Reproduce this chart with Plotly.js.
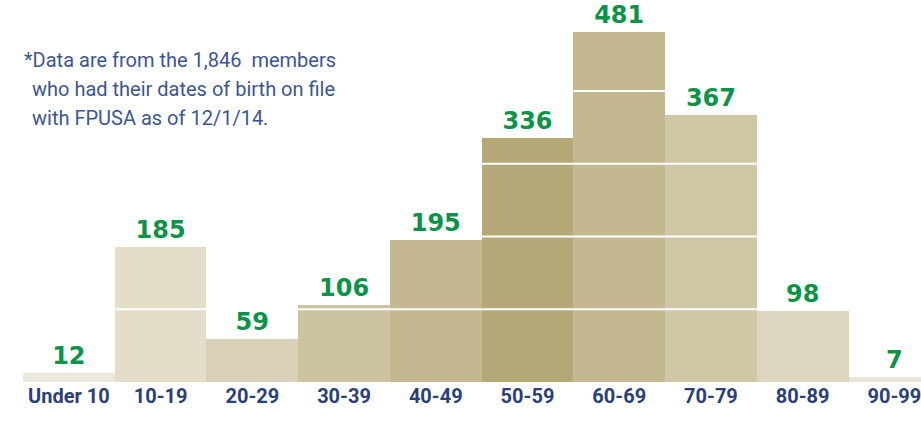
<!DOCTYPE html>
<html><head><meta charset="utf-8">
<script src="https://cdn.plot.ly/plotly-3.0.1.min.js"></script>
<style>body{margin:0;background:#fff}#chart{width:921px;height:435px}</style>
</head><body><div id="chart"></div>
<script>
const categories = ["Under 10","10-19","20-29","30-39","40-49","50-59","60-69","70-79","80-89","90-99"];
const members = [12,185,59,106,195,336,481,367,98,7];
const barColors = ["#ede8dd","#e3ddca","#d9d1b7","#cdc3a0","#c4b890","#b5a877","#c4b890","#d0c7a6","#ddd7bf","#ebe6da"];
const gridVals = [100,200,300,400,500];
const noteLines = ["*Data are from the 1,846  members","who had their dates of birth on file","with FPUSA as of 12/1/14."];

const trace = {
  type:"bar", x:categories, y:members,
  marker:{color:barColors, line:{width:0}},
  text:members.map(String), textposition:"outside", cliponaxis:false,
  textfont:{family:"DejaVu Sans", size:24, color:"#0b9447", weight:"bold"},
  hoverinfo:"none"
};
const noteX = [22,30,30];
const noteY = [60,89,118];
const annotations = noteLines.map((t,i)=>({
  text:t, xref:"paper", yref:"paper", xanchor:"left", yanchor:"middle",
  x:(noteX[i]-23)/898, y:1-(noteY[i])/382, showarrow:false,
  font:{family:"Roboto", size:20, color:"#3b5596"}
}));
// white grid segments drawn across bars only (grid rules show inside bars)
const shapes = [];
members.forEach((m,i)=>{
  gridVals.filter(v=>v<m).forEach(v=>{
    shapes.push({type:"line", xref:"x", yref:"y", x0:i-0.5, x1:i+0.5, y0:v, y1:v,
      line:{color:"#ffffff", width:2}, layer:"above"});
  });
});
const layout = {
  width:921, height:435, margin:{l:23,r:0,t:0,b:53},
  paper_bgcolor:"#fff", plot_bgcolor:"#fff",
  bargap:0, showlegend:false,
  xaxis:{range:[-0.5,9.29], showgrid:false, zeroline:false, showline:false, ticks:"",
    tickfont:{family:"Roboto", size:20, color:"#2b3f78", weight:"bold"}, fixedrange:true},
  yaxis:{range:[0,525], showticklabels:false, showgrid:false, zeroline:false, showline:false, fixedrange:true},
  shapes:shapes, annotations:annotations
};
Plotly.newPlot("chart",[trace],layout,{displayModeBar:false,staticPlot:true});
</script></body></html>
